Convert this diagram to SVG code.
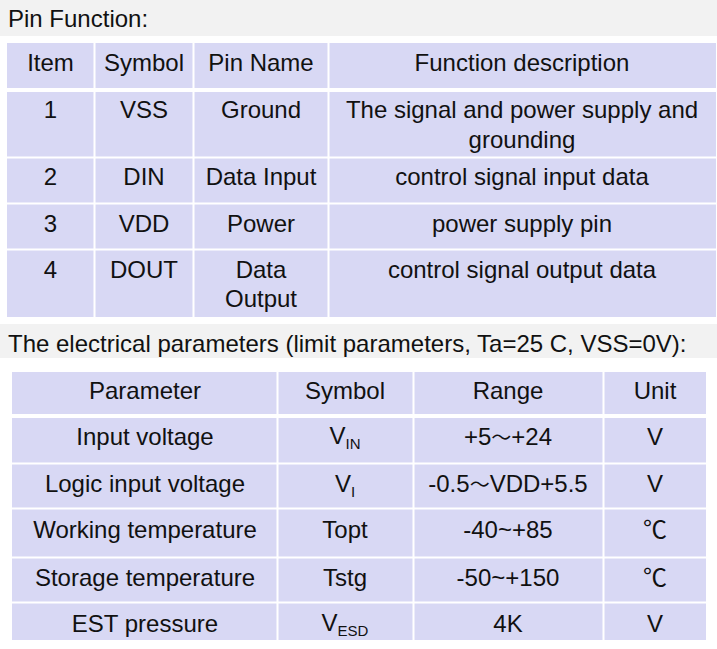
<svg xmlns="http://www.w3.org/2000/svg" width="717" height="649" viewBox="0 0 717 649">
<style>
.band{fill:#f2f2f2}
.cell{fill:#d8d8f4}
.sep{stroke:#ffffff;stroke-width:2}
text{font-family:"Liberation Sans",Arial,sans-serif;font-size:24px;fill:#111111}
.c{text-anchor:middle}
.sub{font-size:15px}
.cjk{font-family:"Noto Sans CJK SC",sans-serif}
</style>
<rect width="717" height="649" fill="#ffffff"/>
<g id="title1">
<rect class="band" x="0" y="0" width="717" height="36"/>
<text x="8" y="27">Pin Function:</text>
</g>
<g id="table1">
<rect class="cell" x="7" y="43" width="709" height="274"/>
<rect x="7" y="88" width="709" height="4" fill="#ffffff"/>
<line class="sep" x1="7" y1="157.5" x2="716" y2="157.5"/>
<line class="sep" x1="7" y1="203.5" x2="716" y2="203.5"/>
<line class="sep" x1="7" y1="249.5" x2="716" y2="249.5"/>
<line class="sep" x1="94.5" y1="43" x2="94.5" y2="317"/>
<line class="sep" x1="193.5" y1="43" x2="193.5" y2="317"/>
<line class="sep" x1="328.5" y1="43" x2="328.5" y2="317"/>
<text class="c" x="50.5" y="71">Item</text>
<text class="c" x="144" y="71">Symbol</text>
<text class="c" x="261" y="71">Pin Name</text>
<text class="c" x="522" y="71">Function description</text>
<text class="c" x="50.5" y="118">1</text>
<text class="c" x="144" y="118">VSS</text>
<text class="c" x="261" y="118">Ground</text>
<text class="c" x="522" y="118">The signal and power supply and</text>
<text class="c" x="522" y="148">grounding</text>
<text class="c" x="50.5" y="185">2</text>
<text class="c" x="144" y="185">DIN</text>
<text class="c" x="261" y="185">Data Input</text>
<text class="c" x="522" y="185">control signal input data</text>
<text class="c" x="50.5" y="232">3</text>
<text class="c" x="144" y="232">VDD</text>
<text class="c" x="261" y="232">Power</text>
<text class="c" x="522" y="232">power supply pin</text>
<text class="c" x="50.5" y="278">4</text>
<text class="c" x="144" y="278">DOUT</text>
<text class="c" x="261" y="278">Data</text>
<text class="c" x="261" y="307">Output</text>
<text class="c" x="522" y="278">control signal output data</text>
</g>
<g id="title2">
<rect class="band" x="0" y="324" width="717" height="34"/>
<text x="8" y="352">The electrical parameters (limit parameters, Ta=25 C, VSS=0V):</text>
</g>
<g id="table2">
<rect class="cell" x="12" y="372" width="694" height="268"/>
<rect x="12" y="414" width="694" height="4" fill="#ffffff"/>
<line class="sep" x1="12" y1="463.5" x2="706" y2="463.5"/>
<line class="sep" x1="12" y1="508.5" x2="706" y2="508.5"/>
<line class="sep" x1="12" y1="557.5" x2="706" y2="557.5"/>
<line class="sep" x1="12" y1="602.5" x2="706" y2="602.5"/>
<line class="sep" x1="277.5" y1="372" x2="277.5" y2="640"/>
<line class="sep" x1="413.5" y1="372" x2="413.5" y2="640"/>
<line class="sep" x1="603.5" y1="372" x2="603.5" y2="640"/>
<text class="c" x="145" y="399">Parameter</text>
<text class="c" x="345" y="399">Symbol</text>
<text class="c" x="508" y="399">Range</text>
<text class="c" x="655" y="399">Unit</text>
<text class="c" x="145" y="445">Input voltage</text>
<text class="c" x="345" y="444">V<tspan class="sub" dy="5">IN</tspan></text>
<text class="c" x="508" y="445">+5<tspan class="cjk" font-size="20">～</tspan>+24</text>
<text class="c" x="655" y="445">V</text>
<text class="c" x="145" y="492">Logic input voltage</text>
<text class="c" x="345" y="492">V<tspan class="sub" dy="5">I</tspan></text>
<text class="c" x="508" y="492">-0.5<tspan class="cjk" font-size="20">～</tspan>VDD+5.5</text>
<text class="c" x="655" y="492">V</text>
<text class="c" x="145" y="538">Working temperature</text>
<text class="c" x="345" y="538">Topt</text>
<text class="c" x="508" y="538">-40~+85</text>
<text class="c cjk" x="655" y="538" font-size="21">℃</text>
<text class="c" x="145" y="586">Storage temperature</text>
<text class="c" x="345" y="586">Tstg</text>
<text class="c" x="508" y="586">-50~+150</text>
<text class="c cjk" x="655" y="586" font-size="21">℃</text>
<text class="c" x="145" y="632">EST pressure</text>
<text class="c" x="345" y="631">V<tspan class="sub" dy="5">ESD</tspan></text>
<text class="c" x="508" y="632">4K</text>
<text class="c" x="655" y="632">V</text>
</g>
</svg>
